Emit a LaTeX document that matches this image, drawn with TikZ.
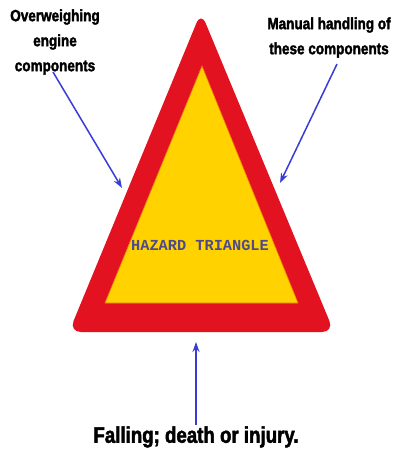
\documentclass[tikz,border=0pt]{standalone}
\usepackage{fontspec}
\usetikzlibrary{arrows.meta}
\newfontfamily\labfont[FakeStretch=0.83,FakeBold=2]{Liberation Sans Bold}
\newfontfamily\monofnt{Liberation Mono Bold}
\definecolor{signred}{RGB}{226,18,32}
\definecolor{signyellow}{RGB}{255,210,0}
\definecolor{arrowblue}{RGB}{58,60,215}
\definecolor{hazardtext}{RGB}{78,74,140}
\definecolor{rimorange}{RGB}{240,120,10}
\tikzset{
  lab/.style={font=\labfont\fontsize{16.3}{25}\selectfont, align=center, inner sep=0pt, text=black},
  bottomlab/.style={font=\labfont\fontsize{22.5}{25}\selectfont, inner sep=0pt, text=black},
  pointer/.style={draw=arrowblue, line width=1.5pt, -{Stealth[length=10pt,width=7pt]}},
}
\begin{document}
\begin{tikzpicture}[x=1pt,y=-1pt]
\useasboundingbox[fill=white] (0,0) rectangle (395,454);
% outer red triangle
\fill[signred, rounded corners=12pt] (201,12) -- (334,332) -- (69,332) -- cycle;
% inner yellow triangle
\fill[signyellow, draw=rimorange, line width=0.6pt] (202,66) -- (298,303) -- (105,303) -- cycle;
\node[font=\monofnt\fontsize{15.3}{18}\selectfont, text=hazardtext, inner sep=0pt] (hz) at (200,245) {HAZARD TRIANGLE};
% labels
\node[lab] (left) at (55,42) {Overweighing\\engine\\components};
\node[lab] (right) at (329,37.5) {Manual handling of\\these components};
\node[bottomlab] (bottom) at (196,437) {Falling; death or injury.};
% arrow targets
\coordinate (tl) at (122,188);
\coordinate (tr) at (280,183);
\coordinate (tb) at (196,342);
\coordinate (sl) at (53,72);
\coordinate (sr) at (337,64);
\coordinate (sb) at (196,425);
\draw[pointer] (sl) -- (tl);
\draw[pointer] (sr) -- (tr);
\draw[pointer] (sb) -- (tb);
\end{tikzpicture}
\end{document}
